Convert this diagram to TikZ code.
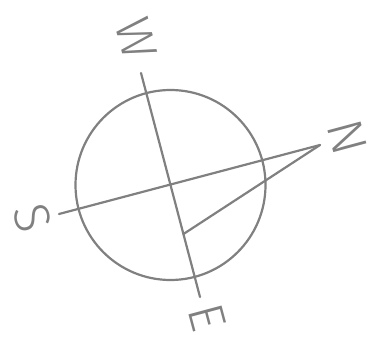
\documentclass[tikz,border=0pt]{standalone}
\usepackage{fontspec}
\newfontfamily\thinfont{Fira Sans Light}
\definecolor{ink}{RGB}{128,128,128}
\tikzset{
  stroke/.style={draw=ink, line width=2.2pt, line cap=round},
  letter/.style={text=ink, inner sep=0pt, rotate=-75, font=\thinfont\fontsize{50}{50}\selectfont}
}
\begin{document}
\begin{tikzpicture}[x=1pt,y=-1pt]
\useasboundingbox (0,0) rectangle (382,339);
\node[stroke, circle, minimum size=190pt, inner sep=0pt] (ring) at (170.5,185) {};
\coordinate (wend) at (141,73);
\coordinate (eend) at (200,297);
\coordinate (send) at (59,214);
\coordinate (nend) at (320,145);
\coordinate (hub) at (183.5,234);
\draw[stroke] (wend) -- (eend);
\draw[stroke] (send) -- (nend);
\draw[stroke] (hub) -- (nend);
\node[letter] (W) at (136,39) {W};
\node[letter] (N) at (347,137) {N};
\node[letter] (S) at (33,218) {S};
\node[letter] (E) at (207,317) {E};
\end{tikzpicture}
\end{document}
